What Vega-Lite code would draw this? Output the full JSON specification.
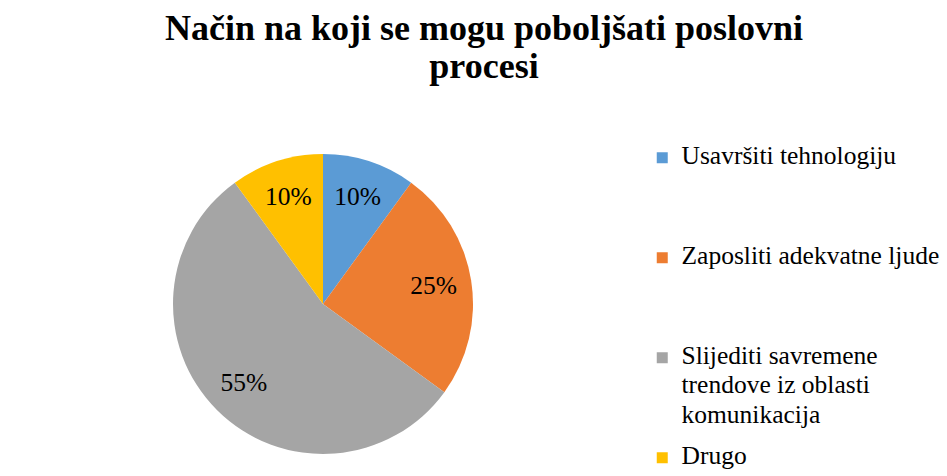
{
  "$schema": "https://vega.github.io/schema/vega-lite/v6.json",
  "width": 300,
  "height": 300,
  "autosize": "none",
  "padding": {"left": 173, "top": 154, "right": 474, "bottom": 22},
  "background": "white",
  "title": {
    "text": ["Način na koji se mogu poboljšati poslovni", "procesi"],
    "font": "Liberation Serif",
    "fontSize": 36,
    "fontWeight": "bold",
    "color": "black",
    "lineHeight": 38,
    "anchor": "middle",
    "frame": "group",
    "dx": 161,
    "offset": 59
  },
  "data": {
    "values": [
      {"kategorija": "Usavršiti tehnologiju", "procenat": 0.10, "red": 1},
      {"kategorija": "Zaposliti adekvatne ljude", "procenat": 0.25, "red": 2},
      {"kategorija": "Slijediti savremene trendove iz oblasti komunikacija", "procenat": 0.55, "red": 3},
      {"kategorija": "Drugo", "procenat": 0.10, "red": 4}
    ]
  },
  "encoding": {
    "theta": {"field": "procenat", "type": "quantitative", "stack": true},
    "order": {"field": "red", "type": "quantitative"}
  },
  "layer": [
    {
      "mark": {"type": "arc", "outerRadius": 150},
      "encoding": {
        "color": {
          "field": "kategorija",
          "type": "nominal",
          "sort": null,
          "scale": {
            "domain": ["Usavršiti tehnologiju", "Zaposliti adekvatne ljude", "Slijediti savremene trendove iz oblasti komunikacija", "Drugo"],
            "range": ["#5B9BD5", "#ED7D31", "#A5A5A5", "#FFC000"]
          },
          "legend": {
            "title": null,
            "orient": "none",
            "legendX": 476.5,
            "legendY": -9,
            "padding": 0,
            "symbolType": "square",
            "symbolSize": 121,
            "symbolStrokeWidth": 0,
            "labelFont": "Liberation Serif",
            "labelFontSize": 25.5,
            "labelColor": "black",
            "labelLimit": 0,
            "labelOffset": 6.5,
            "labelBaseline": "top",
            "rowPadding": 14,
            "gridAlign": "all",
            "labelExpr": "datum.label == 'Slijediti savremene trendove iz oblasti komunikacija' ? ['Slijediti savremene', 'trendove iz oblasti', 'komunikacija'] : datum.label",
            "encode": {
              "labels": {"update": {"lineHeight": {"value": 29.5}, "dy": {"value": -14}}}
            }
          }
        }
      }
    },
    {
      "mark": {"type": "text", "radius": 112, "font": "Liberation Serif", "fontSize": 25.5},
      "encoding": {
        "text": {"field": "procenat", "type": "quantitative", "format": ".0%"},
        "color": {"value": "black"}
      }
    }
  ]
}
